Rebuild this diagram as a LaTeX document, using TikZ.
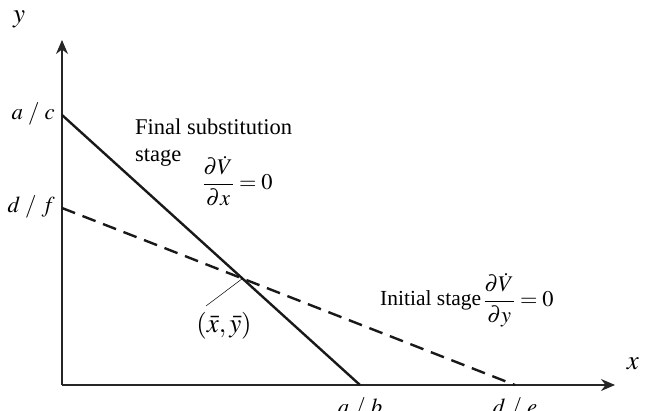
\documentclass[tikz,border=0pt]{standalone}
\usepackage{amsmath}
\usepackage{mathptmx}
\usepackage{fontspec}
\setmainfont{Liberation Serif}
\usetikzlibrary{arrows.meta}
\begin{document}
\begin{tikzpicture}[x=1pt,y=1pt,
  axis/.style={line width=1.6pt,draw=black!85,-{Stealth[length=14pt,width=12pt]}},
  curve/.style={line width=2.4pt,draw=black!90},
  lbl/.style={font=\fontsize{20.74}{24}\selectfont,inner sep=0pt},
  txt/.style={inner sep=0pt,align=left}]
\clip (0,0) rectangle (645,410);
\useasboundingbox (0,0) rectangle (645,410);
\coordinate (O) at (62,25);
\coordinate (Ytop) at (62,370);
\coordinate (Xend) at (615,25);
\coordinate (AC) at (62,295);
\coordinate (DF) at (62,202);
\coordinate (AB) at (360,25);
\coordinate (DE) at (515,25);
\coordinate (P) at (242.5,131.5);
\coordinate (Q) at (206,104);
\draw[axis] (O) -- (Ytop);
\draw[axis] (O) -- (Xend);
\draw[curve] (AC) -- (AB);
\draw[curve,dash pattern=on 14pt off 8pt] (DF) -- (DE);
\draw[line width=0.5pt] (P) -- (Q);
\node[lbl,scale=1.3] (ylab) at (19,391) {$y$};
\node[lbl,scale=1.3] (xlab) at (633,46) {$x$};
\node[lbl,scale=1.1,anchor=east] (ac) at (55,296) {$a\;/\;c$};
\node[lbl,scale=1.1,anchor=east] (df) at (55,203) {$d\;/\;f$};
\node[lbl,scale=1.1,anchor=north] (ab) at (360,13) {$a\;/\;b$};
\node[lbl,scale=1.1,anchor=north] (de) at (515,13) {$d\;/\;e$};
\node[lbl,scale=1.3] (pt) at (224,84) {$(\bar{x},\bar{y})$};
\node[txt,font=\fontsize{22.5}{26}\selectfont,anchor=base west] (fin) at (135,275) {Final substitution};
\node[txt,font=\fontsize{22.5}{26}\selectfont,anchor=base west] (stg) at (135,248) {stage};
\node[lbl,scale=1.08,anchor=west] (fq) at (202,229) {$\dfrac{\partial \dot V}{\partial x}=0$};
\node[txt,font=\fontsize{21.5}{26}\selectfont,anchor=base west] (ini) at (380,105) {Initial stage};
\node[lbl,scale=1.08,anchor=west] (iq) at (483,110) {$\dfrac{\partial \dot V}{\partial y}=0$};
\end{tikzpicture}
\end{document}
